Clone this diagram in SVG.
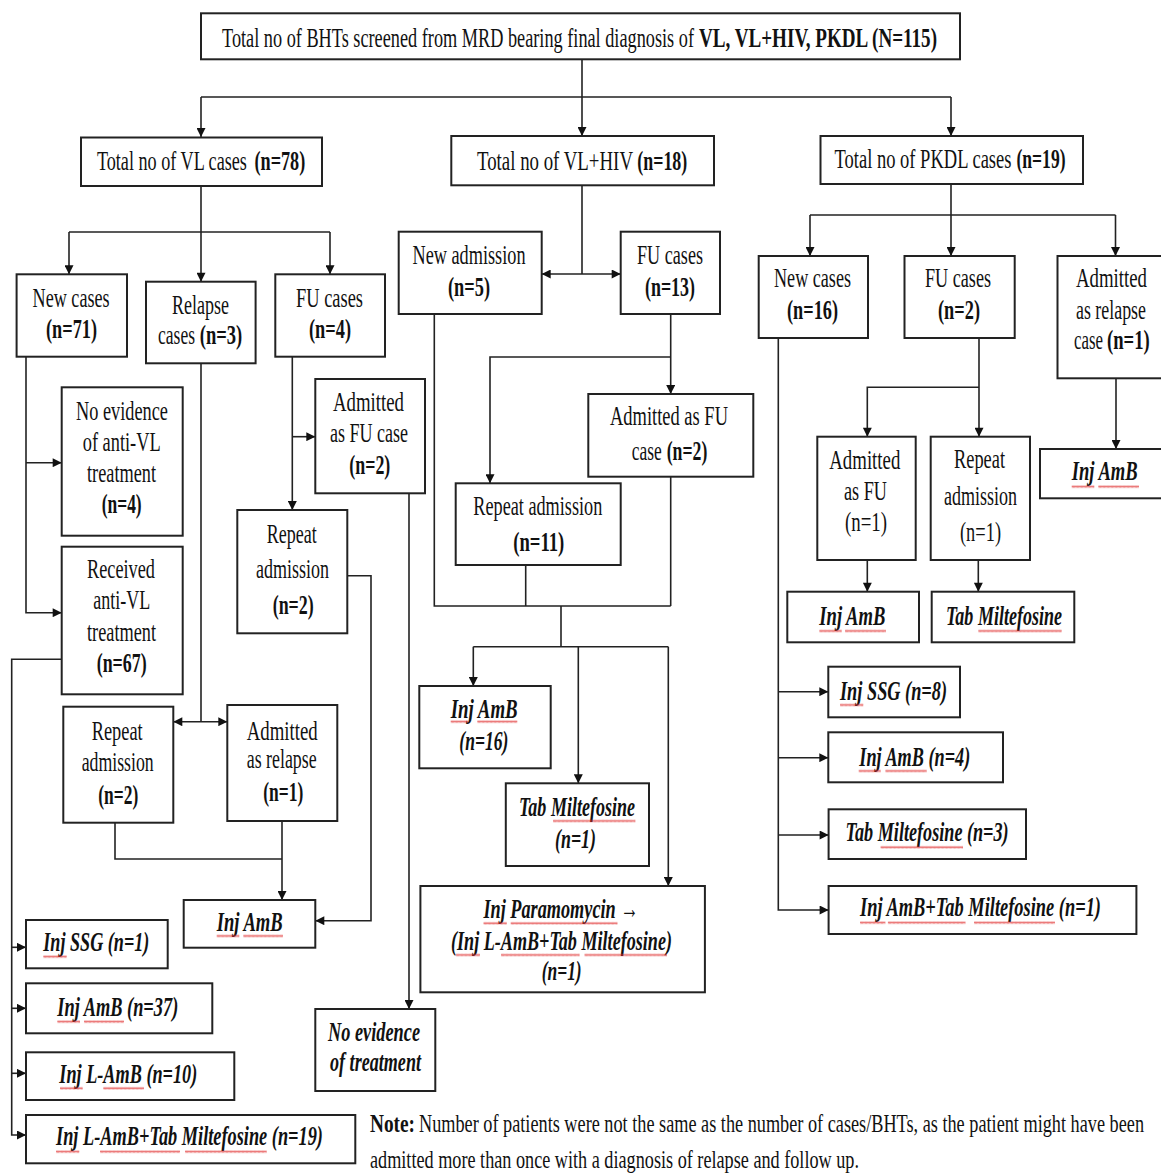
<svg xmlns="http://www.w3.org/2000/svg" width="1161" height="1174" viewBox="0 0 1161 1174">
<style>
.bx{fill:#fff;stroke:#222;stroke-width:2}
.ln{fill:none;stroke:#222;stroke-width:1.6}
.ar{marker-end:url(#ah)}
.da{marker-start:url(#ah);marker-end:url(#ah)}
text{font-family:"Liberation Serif","Times New Roman",serif;font-size:27px;fill:#111}
.b{font-weight:bold}
.bi{font-weight:bold;font-style:italic;font-size:28px}
.nt{font-size:25px}
.sq{fill:url(#sqp)}
</style>
<defs>
<marker id="ah" viewBox="0 0 10 10" refX="10" refY="5" markerWidth="10" markerHeight="9" markerUnits="userSpaceOnUse" orient="auto-start-reverse"><path d="M0,0 L10,5 L0,10 z" fill="#111"/></marker>
<pattern id="sqp" width="4" height="3" patternUnits="userSpaceOnUse"><path d="M0,2.5 L1,0.5 L2,2.5 L3,0.5 L4,2.5" fill="none" stroke="#e02a2a" stroke-width="0.7"/></pattern>
</defs>
<rect width="1161" height="1174" fill="#fff"/>

<g id="connectors">
<path class="ln" d="M582,59 V97 M201,97 H951"/>
<path class="ln ar" d="M201,97 V137"/>
<path class="ln ar" d="M582,97 V136"/>
<path class="ln ar" d="M951,97 V136"/>
<path class="ln ar" d="M201,186 V281.7"/>
<path class="ln" d="M69,232 H330"/>
<path class="ln ar" d="M69,232 V274.3"/>
<path class="ln ar" d="M330,232 V274.3"/>
<path class="ln ar" d="M26,356.7 V612.7 H61.7"/>
<path class="ln ar" d="M26,462.7 H61.7"/>
<path class="ln ar" d="M292.3,356.7 V510"/>
<path class="ln ar" d="M292.3,436.7 H315.3"/>
<path class="ln ar" d="M347.3,575.7 H371 V920.7 H315.3"/>
<path class="ln ar" d="M409,493.3 V1009"/>
<path class="ln" d="M201,363.3 V721.7"/>
<path class="ln da" d="M173.3,721.7 H227.3"/>
<path class="ln" d="M115,822.7 V859 H282"/>
<path class="ln ar" d="M282,821 V900"/>
<path class="ln ar" d="M61.7,659.3 H11.7 V1135 H26"/>
<path class="ln ar" d="M11.7,947.3 H26"/>
<path class="ln ar" d="M11.7,1008.3 H26"/>
<path class="ln ar" d="M11.7,1073.3 H26"/>
<path class="ln" d="M582,185.3 V274"/>
<path class="ln da" d="M541.7,274 H620.7"/>
<path class="ln" d="M434.3,314 V606 H670.7"/>
<path class="ln ar" d="M670.7,314 V394"/>
<path class="ln ar" d="M670.7,357 H490 V483.3"/>
<path class="ln" d="M670.7,476.7 V606"/>
<path class="ln" d="M525.7,565 V606"/>
<path class="ln" d="M561,606 V646.7 M473.3,646.7 H668.3"/>
<path class="ln ar" d="M473.3,646.7 V686"/>
<path class="ln ar" d="M578.3,646.7 V783.3"/>
<path class="ln ar" d="M668.3,646.7 V886"/>
<path class="ln ar" d="M951,184 V256"/>
<path class="ln" d="M810,215 H1115.5"/>
<path class="ln ar" d="M810,215 V256"/>
<path class="ln ar" d="M1115.5,215 V256"/>
<path class="ln ar" d="M778.3,338 V910 H828.6"/>
<path class="ln ar" d="M778.3,691.7 H828.3"/>
<path class="ln ar" d="M778.3,757.7 H828.3"/>
<path class="ln ar" d="M778.3,835 H828.6"/>
<path class="ln ar" d="M979,338 V436.7"/>
<path class="ln ar" d="M979,387.3 H867.3 V436.7"/>
<path class="ln ar" d="M867.3,560 V591.7"/>
<path class="ln ar" d="M978.3,560 V591.7"/>
<path class="ln ar" d="M1116,378.3 V449"/>
</g>

<g id="n-top">
<rect class="bx" x="201" y="13.3" width="759" height="46"/>
<text transform="translate(222,47) scale(0.68,1)" textLength="694.1" lengthAdjust="spacingAndGlyphs">Total no of BHTs screened from MRD bearing final diagnosis of</text>
<text class="b" transform="translate(699,47) scale(0.68,1)" textLength="350" lengthAdjust="spacingAndGlyphs">VL, VL+HIV, PKDL (N=115)</text>
</g>

<g id="n-vl">
<rect class="bx" x="81" y="137.5" width="241" height="48.5"/>
<text transform="translate(96.9,170) scale(0.68,1)" textLength="220.6" lengthAdjust="spacingAndGlyphs">Total no of VL cases</text>
<text class="b" transform="translate(254.5,170) scale(0.68,1)" textLength="74.6" lengthAdjust="spacingAndGlyphs">(n=78)</text>
</g>
<g id="n-hiv">
<rect class="bx" x="451.3" y="136" width="262.7" height="49.3"/>
<text transform="translate(477,170) scale(0.68,1)" textLength="229.4" lengthAdjust="spacingAndGlyphs">Total no of VL+HIV</text>
<text class="b" transform="translate(637.3,170) scale(0.68,1)" textLength="73.5" lengthAdjust="spacingAndGlyphs">(n=18)</text>
</g>
<g id="n-pkdl">
<rect class="bx" x="820.5" y="136" width="262.5" height="48"/>
<text transform="translate(834.5,168) scale(0.68,1)" textLength="260.3" lengthAdjust="spacingAndGlyphs">Total no of PKDL cases</text>
<text class="b" transform="translate(1016.5,168) scale(0.68,1)" textLength="72.1" lengthAdjust="spacingAndGlyphs">(n=19)</text>
</g>

<g id="n-vl-new">
<rect class="bx" x="16.6" y="274.3" width="110.4" height="82.4"/>
<text transform="translate(32.6,307) scale(0.68,1)" textLength="113.2" lengthAdjust="spacingAndGlyphs">New cases</text>
<text class="b" transform="translate(46,338) scale(0.68,1)" textLength="75" lengthAdjust="spacingAndGlyphs">(n=71)</text>
</g>
<g id="n-vl-relapse">
<rect class="bx" x="146" y="281.7" width="109.6" height="81.6"/>
<text transform="translate(172,314) scale(0.68,1)" textLength="83.8" lengthAdjust="spacingAndGlyphs">Relapse</text>
<text transform="translate(158,344) scale(0.68,1)" textLength="54.4" lengthAdjust="spacingAndGlyphs">cases</text>
<text class="b" transform="translate(199.8,344) scale(0.68,1)" textLength="62.5" lengthAdjust="spacingAndGlyphs">(n=3)</text>
</g>
<g id="n-vl-fu">
<rect class="bx" x="275.3" y="274.3" width="109.7" height="82.4"/>
<text transform="translate(296,307) scale(0.68,1)" textLength="98.5" lengthAdjust="spacingAndGlyphs">FU cases</text>
<text class="b" transform="translate(309,338) scale(0.68,1)" textLength="61.8" lengthAdjust="spacingAndGlyphs">(n=4)</text>
</g>
<g id="n-vl-noev">
<rect class="bx" x="61.7" y="387.3" width="121" height="148.4"/>
<text transform="translate(76,420) scale(0.68,1)" textLength="135.3" lengthAdjust="spacingAndGlyphs">No evidence</text>
<text transform="translate(82.7,451) scale(0.68,1)" textLength="114.7" lengthAdjust="spacingAndGlyphs">of anti-VL</text>
<text transform="translate(87,482) scale(0.68,1)" textLength="101.5" lengthAdjust="spacingAndGlyphs">treatment</text>
<text class="b" transform="translate(101.7,513) scale(0.68,1)" textLength="58.8" lengthAdjust="spacingAndGlyphs">(n=4)</text>
</g>
<g id="n-vl-received">
<rect class="bx" x="61.7" y="546.7" width="121" height="147.6"/>
<text transform="translate(87,578) scale(0.68,1)" textLength="100" lengthAdjust="spacingAndGlyphs">Received</text>
<text transform="translate(93.3,609) scale(0.68,1)" textLength="83.8" lengthAdjust="spacingAndGlyphs">anti-VL</text>
<text transform="translate(87,641) scale(0.68,1)" textLength="101.5" lengthAdjust="spacingAndGlyphs">treatment</text>
<text class="b" transform="translate(96.7,672) scale(0.68,1)" textLength="73.5" lengthAdjust="spacingAndGlyphs">(n=67)</text>
</g>
<g id="n-vl-admfu">
<rect class="bx" x="315.3" y="379" width="109.7" height="114.3"/>
<text transform="translate(333,411) scale(0.68,1)" textLength="104.4" lengthAdjust="spacingAndGlyphs">Admitted</text>
<text transform="translate(330,442) scale(0.68,1)" textLength="114.7" lengthAdjust="spacingAndGlyphs">as FU case</text>
<text class="b" transform="translate(349.3,474) scale(0.68,1)" textLength="60.3" lengthAdjust="spacingAndGlyphs">(n=2)</text>
</g>
<g id="n-vl-repfu">
<rect class="bx" x="237.3" y="510" width="110" height="123.3"/>
<text transform="translate(266.7,543) scale(0.68,1)" textLength="73.5" lengthAdjust="spacingAndGlyphs">Repeat</text>
<text transform="translate(256,578) scale(0.68,1)" textLength="107.4" lengthAdjust="spacingAndGlyphs">admission</text>
<text class="b" transform="translate(272.7,614) scale(0.68,1)" textLength="60.3" lengthAdjust="spacingAndGlyphs">(n=2)</text>
</g>
<g id="n-vl-reprel">
<rect class="bx" x="63.3" y="706.7" width="110" height="116"/>
<text transform="translate(91.7,740) scale(0.68,1)" textLength="75" lengthAdjust="spacingAndGlyphs">Repeat</text>
<text transform="translate(81.7,771) scale(0.68,1)" textLength="105.9" lengthAdjust="spacingAndGlyphs">admission</text>
<text class="b" transform="translate(98.3,804) scale(0.68,1)" textLength="58.8" lengthAdjust="spacingAndGlyphs">(n=2)</text>
</g>
<g id="n-vl-admrel">
<rect class="bx" x="227.3" y="705" width="110" height="116"/>
<text transform="translate(246.7,740) scale(0.68,1)" textLength="104.4" lengthAdjust="spacingAndGlyphs">Admitted</text>
<text transform="translate(246.7,768) scale(0.68,1)" textLength="102.9" lengthAdjust="spacingAndGlyphs">as relapse</text>
<text class="b" transform="translate(263.3,801) scale(0.68,1)" textLength="58.8" lengthAdjust="spacingAndGlyphs">(n=1)</text>
</g>
<g id="n-vl-injamb">
<rect class="bx" x="183.7" y="900" width="131.6" height="47.7"/>
<text class="bi" transform="translate(216.7,931) scale(0.68,1)" textLength="97.1" lengthAdjust="spacingAndGlyphs">Inj AmB</text>
<rect class="sq" width="22.6" height="3" transform="translate(216.7,934.5)"/>
<rect class="sq" width="39.7" height="3" transform="translate(243.3,934.5)"/>
</g>
<g id="n-vl-ssg">
<rect class="bx" x="26" y="920" width="141.7" height="48.3"/>
<text class="bi" transform="translate(43.3,951) scale(0.68,1)" textLength="155.9" lengthAdjust="spacingAndGlyphs">Inj SSG (n=1)</text>
<rect class="sq" width="23.4" height="3" transform="translate(43.3,955.2)"/>
</g>
<g id="n-vl-amb37">
<rect class="bx" x="26" y="983.3" width="186.3" height="50"/>
<text class="bi" transform="translate(57.3,1016) scale(0.68,1)" textLength="177.9" lengthAdjust="spacingAndGlyphs">Inj AmB (n=37)</text>
<rect class="sq" width="22.7" height="3" transform="translate(57.3,1020.2)"/>
<rect class="sq" width="40" height="3" transform="translate(84,1020.2)"/>
</g>
<g id="n-vl-lamb10">
<rect class="bx" x="26" y="1052.3" width="208.3" height="47.7"/>
<text class="bi" transform="translate(59.3,1083) scale(0.68,1)" textLength="202.9" lengthAdjust="spacingAndGlyphs">Inj L-AmB (n=10)</text>
<rect class="sq" width="22.7" height="3" transform="translate(60,1086.8)"/>
<rect class="sq" width="40.7" height="3" transform="translate(103.3,1086.8)"/>
</g>
<g id="n-vl-lambtab19">
<rect class="bx" x="26" y="1115" width="329.3" height="48.3"/>
<text class="bi" transform="translate(56,1145) scale(0.68,1)" textLength="392.6" lengthAdjust="spacingAndGlyphs">Inj L-AmB+Tab Miltefosine (n=19)</text>
<rect class="sq" width="23.3" height="3" transform="translate(56,1150.2)"/>
<rect class="sq" width="80" height="3" transform="translate(100,1150.2)"/>
<rect class="sq" width="81.7" height="3" transform="translate(185,1150.2)"/>
</g>
<g id="n-vl-notreat">
<rect class="bx" x="315.3" y="1009" width="120" height="82"/>
<text class="bi" transform="translate(328,1041) scale(0.68,1)" textLength="135.3" lengthAdjust="spacingAndGlyphs">No evidence</text>
<text class="bi" transform="translate(330,1071) scale(0.68,1)" textLength="133.8" lengthAdjust="spacingAndGlyphs">of treatment</text>
</g>

<g id="n-hiv-newadm">
<rect class="bx" x="398.7" y="231.7" width="143" height="82.3"/>
<text transform="translate(412.5,264) scale(0.68,1)" textLength="166.2" lengthAdjust="spacingAndGlyphs">New admission</text>
<text class="b" transform="translate(448,296) scale(0.68,1)" textLength="61.8" lengthAdjust="spacingAndGlyphs">(n=5)</text>
</g>
<g id="n-hiv-fu">
<rect class="bx" x="620.7" y="231.7" width="99.3" height="82.3"/>
<text transform="translate(637,264) scale(0.68,1)" textLength="97.1" lengthAdjust="spacingAndGlyphs">FU cases</text>
<text class="b" transform="translate(645,296) scale(0.68,1)" textLength="73.5" lengthAdjust="spacingAndGlyphs">(n=13)</text>
</g>
<g id="n-hiv-admfu">
<rect class="bx" x="588.3" y="394" width="165" height="82.7"/>
<text transform="translate(610,425) scale(0.68,1)" textLength="173.5" lengthAdjust="spacingAndGlyphs">Admitted as FU</text>
<text transform="translate(631.7,460) scale(0.68,1)" textLength="44.1" lengthAdjust="spacingAndGlyphs">case</text>
<text class="b" transform="translate(666.7,460) scale(0.68,1)" textLength="59.7" lengthAdjust="spacingAndGlyphs">(n=2)</text>
</g>
<g id="n-hiv-rep">
<rect class="bx" x="455.7" y="483.3" width="165" height="81.7"/>
<text transform="translate(473.3,515) scale(0.68,1)" textLength="189.7" lengthAdjust="spacingAndGlyphs">Repeat admission</text>
<text class="b" transform="translate(513.3,551) scale(0.68,1)" textLength="75" lengthAdjust="spacingAndGlyphs">(n=11)</text>
</g>
<g id="n-hiv-amb16">
<rect class="bx" x="419.3" y="686" width="131.4" height="82.3"/>
<text class="bi" transform="translate(450.7,718) scale(0.68,1)" textLength="98.5" lengthAdjust="spacingAndGlyphs">Inj AmB</text>
<text class="bi" transform="translate(459.3,750) scale(0.68,1)" textLength="72.1" lengthAdjust="spacingAndGlyphs">(n=16)</text>
<rect class="sq" width="17.6" height="3" transform="translate(450.7,720.2)"/>
<rect class="sq" width="40" height="3" transform="translate(477.3,720.2)"/>
</g>
<g id="n-hiv-tab1">
<rect class="bx" x="505.8" y="783.3" width="143.2" height="82.7"/>
<text class="bi" transform="translate(519,816) scale(0.68,1)" textLength="170.6" lengthAdjust="spacingAndGlyphs">Tab Miltefosine</text>
<text class="bi" transform="translate(555,848) scale(0.68,1)" textLength="60.3" lengthAdjust="spacingAndGlyphs">(n=1)</text>
<rect class="sq" width="82.4" height="3" transform="translate(553,819.5)"/>
</g>
<g id="n-hiv-param">
<rect class="bx" x="420.4" y="886" width="284.5" height="106.3"/>
<text class="bi" transform="translate(483.5,918) scale(0.68,1)" textLength="227.9" lengthAdjust="spacingAndGlyphs">Inj Paramomycin →</text>
<text class="bi" transform="translate(451,950) scale(0.68,1)" textLength="325" lengthAdjust="spacingAndGlyphs">(Inj L-AmB+Tab Miltefosine)</text>
<text class="bi" transform="translate(541.7,980) scale(0.68,1)" textLength="58.8" lengthAdjust="spacingAndGlyphs">(n=1)</text>
<rect class="sq" width="23.3" height="3" transform="translate(483.5,921.8)"/>
<rect class="sq" width="106.8" height="3" transform="translate(510.7,921.8)"/>
<rect class="sq" width="24.2" height="3" transform="translate(455.8,953.5)"/>
<rect class="sq" width="78.6" height="3" transform="translate(501,953.5)"/>
<rect class="sq" width="82.5" height="3" transform="translate(584.5,953.5)"/>
</g>

<g id="n-pk-new">
<rect class="bx" x="758.7" y="256" width="109.3" height="82"/>
<text transform="translate(774,287) scale(0.68,1)" textLength="113.2" lengthAdjust="spacingAndGlyphs">New cases</text>
<text class="b" transform="translate(787,319) scale(0.68,1)" textLength="75" lengthAdjust="spacingAndGlyphs">(n=16)</text>
</g>
<g id="n-pk-fu">
<rect class="bx" x="904.5" y="256" width="110.2" height="82"/>
<text transform="translate(925,287) scale(0.68,1)" textLength="97.1" lengthAdjust="spacingAndGlyphs">FU cases</text>
<text class="b" transform="translate(938,319) scale(0.68,1)" textLength="61.8" lengthAdjust="spacingAndGlyphs">(n=2)</text>
</g>
<g id="n-pk-admrel">
<rect class="bx" x="1057.5" y="256" width="106" height="122.3"/>
<text transform="translate(1076,287) scale(0.68,1)" textLength="104.4" lengthAdjust="spacingAndGlyphs">Admitted</text>
<text transform="translate(1076,319) scale(0.68,1)" textLength="102.9" lengthAdjust="spacingAndGlyphs">as relapse</text>
<text transform="translate(1074,349) scale(0.68,1)" textLength="42.6" lengthAdjust="spacingAndGlyphs">case</text>
<text class="b" transform="translate(1107,349) scale(0.68,1)" textLength="62.8" lengthAdjust="spacingAndGlyphs">(n=1)</text>
</g>
<g id="n-pk-admfu">
<rect class="bx" x="817.3" y="436.7" width="98.4" height="123.3"/>
<text transform="translate(829.3,469) scale(0.68,1)" textLength="104.4" lengthAdjust="spacingAndGlyphs">Admitted</text>
<text transform="translate(844,500) scale(0.68,1)" textLength="63.2" lengthAdjust="spacingAndGlyphs">as FU</text>
<text transform="translate(845,531) scale(0.68,1)" textLength="61.8" lengthAdjust="spacingAndGlyphs">(n=1)</text>
</g>
<g id="n-pk-rep">
<rect class="bx" x="930.7" y="436.7" width="99.3" height="123.3"/>
<text transform="translate(954,468) scale(0.68,1)" textLength="75" lengthAdjust="spacingAndGlyphs">Repeat</text>
<text transform="translate(944,505) scale(0.68,1)" textLength="107.4" lengthAdjust="spacingAndGlyphs">admission</text>
<text transform="translate(960,541) scale(0.68,1)" textLength="60.3" lengthAdjust="spacingAndGlyphs">(n=1)</text>
</g>
<g id="n-pk-amb-rel">
<rect class="bx" x="1040" y="449" width="123.5" height="49.3"/>
<text class="bi" transform="translate(1071.7,480) scale(0.68,1)" textLength="97.1" lengthAdjust="spacingAndGlyphs">Inj AmB</text>
<rect class="sq" width="22.6" height="3" transform="translate(1071.7,485.2)"/>
<rect class="sq" width="40.7" height="3" transform="translate(1098.3,485.2)"/>
</g>
<g id="n-pk-amb">
<rect class="bx" x="787.3" y="591.7" width="131.7" height="50.6"/>
<text class="bi" transform="translate(819.3,625) scale(0.68,1)" textLength="97.1" lengthAdjust="spacingAndGlyphs">Inj AmB</text>
<rect class="sq" width="22.4" height="3" transform="translate(819.3,629.5)"/>
<rect class="sq" width="41" height="3" transform="translate(845,629.5)"/>
</g>
<g id="n-pk-tab">
<rect class="bx" x="931.7" y="591.7" width="142.6" height="50.6"/>
<text class="bi" transform="translate(946,625) scale(0.68,1)" textLength="170.6" lengthAdjust="spacingAndGlyphs">Tab Miltefosine</text>
<rect class="sq" width="83.4" height="3" transform="translate(978.3,629.5)"/>
</g>
<g id="n-pk-ssg8">
<rect class="bx" x="828.3" y="666.7" width="131.7" height="50.6"/>
<text class="bi" transform="translate(840,700) scale(0.68,1)" textLength="157.4" lengthAdjust="spacingAndGlyphs">Inj SSG (n=8)</text>
<rect class="sq" width="23.3" height="3" transform="translate(840,703.5)"/>
</g>
<g id="n-pk-amb4">
<rect class="bx" x="828.3" y="732.3" width="174.7" height="50"/>
<text class="bi" transform="translate(859.3,766) scale(0.68,1)" textLength="163.2" lengthAdjust="spacingAndGlyphs">Inj AmB (n=4)</text>
<rect class="sq" width="22" height="3" transform="translate(858.7,769.5)"/>
<rect class="sq" width="41.3" height="3" transform="translate(885.4,769.5)"/>
</g>
<g id="n-pk-tab3">
<rect class="bx" x="828.6" y="809.3" width="197.4" height="49.7"/>
<text class="bi" transform="translate(845.6,841) scale(0.68,1)" textLength="239.7" lengthAdjust="spacingAndGlyphs">Tab Miltefosine (n=3)</text>
<rect class="sq" width="82.4" height="3" transform="translate(880.6,845.8)"/>
</g>
<g id="n-pk-ambtab1">
<rect class="bx" x="828.6" y="886" width="307.8" height="48"/>
<text class="bi" transform="translate(860,916) scale(0.68,1)" textLength="354.4" lengthAdjust="spacingAndGlyphs">Inj AmB+Tab Miltefosine (n=1)</text>
<rect class="sq" width="25.4" height="3" transform="translate(860,921.2)"/>
<rect class="sq" width="77.6" height="3" transform="translate(887.9,921.2)"/>
<rect class="sq" width="81" height="3" transform="translate(974,921.2)"/>
</g>

<g id="note">
<text class="nt b" transform="translate(370,1132) scale(0.68,1)" textLength="66.2" lengthAdjust="spacingAndGlyphs">Note:</text>
<text class="nt" transform="translate(419,1132) scale(0.68,1)" textLength="1066.2" lengthAdjust="spacingAndGlyphs">Number of patients were not the same as the number of cases/BHTs,  as the patient might have been</text>
<text class="nt" transform="translate(370,1168) scale(0.68,1)" textLength="719.1" lengthAdjust="spacingAndGlyphs">admitted more than once with a diagnosis of relapse and follow up.</text>
</g>
</svg>
